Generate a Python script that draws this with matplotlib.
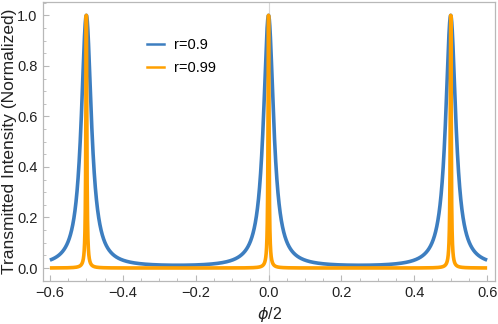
import matplotlib
matplotlib.use('Agg')
import matplotlib.pyplot as plt
from matplotlib.ticker import MultipleLocator, FuncFormatter
from matplotlib.lines import Line2D
import numpy as np

plt.rcParams['font.family'] = ['Liberation Sans', 'DejaVu Sans']

# reflection coefficients from the legend
r_values = [0.9, 0.99]
labels = ['r=0.9', 'r=0.99']
colors = ['#3D7EC0', '#FFA000']

x = np.linspace(-0.6, 0.6, 24001)


def airy(x, r):
    # Fabry-Perot transmission, R = r^2, phase/2 axis
    R = r ** 2
    return (1 - R) ** 2 / ((1 - R) ** 2 + 4 * R * np.sin(2 * np.pi * x) ** 2)


fig = plt.figure(figsize=(4.98, 3.24), dpi=100)
ax = fig.add_axes([0.0863, 0.133, 0.908, 0.861])

ax.axvline(0, color='#d8d8d8', lw=0.8, zorder=0)
for r, lab, c in zip(r_values, labels, colors):
    ax.plot(x, airy(x, r), color=c, lw=2.6, label=lab, solid_capstyle='butt')

ax.set_xlim(-0.619, 0.622)
ax.set_ylim(-0.051, 1.053)
ax.xaxis.set_major_locator(MultipleLocator(0.2))
ax.xaxis.set_minor_locator(MultipleLocator(0.05))
ax.yaxis.set_major_locator(MultipleLocator(0.2))
ax.yaxis.set_minor_locator(MultipleLocator(0.05))
ax.xaxis.set_major_formatter(FuncFormatter(
    lambda v, p: ('%.1f' % v).replace('-', '\u2212') if abs(v) > 1e-9 else '0.0'))
ax.yaxis.set_major_formatter(FuncFormatter(
    lambda v, p: '%.1f' % abs(v) if abs(v) < 1e-9 else '%.1f' % v))

for s in ax.spines.values():
    s.set_color('#b8b8b8')
    s.set_linewidth(0.9)
ax.tick_params(which='both', direction='in', color='#b8b8b8', labelsize=10.5,
               labelcolor='#222222')
ax.tick_params(which='major', length=4, width=0.8, pad=4)
ax.tick_params(which='minor', length=2, width=0.6)

ax.set_ylabel('Transmitted Intensity (Normalized)', fontsize=12.5, color='#222222')
ax.yaxis.set_label_coords(-0.058, 0.5)
ax.set_xlabel(r'$\phi$/2', fontsize=11.5, color='#222222')
ax.xaxis.set_label_coords(0.5, -0.085)

handles = [Line2D([], [], color=c, lw=1.8) for c in colors]
ax.legend(handles, labels, loc='upper left', bbox_to_anchor=(0.2, 0.918), frameon=False,
          fontsize=10.5, handlelength=1.2, handletextpad=0.7, labelspacing=0.6)

fig.savefig('out.png', dpi=100)
